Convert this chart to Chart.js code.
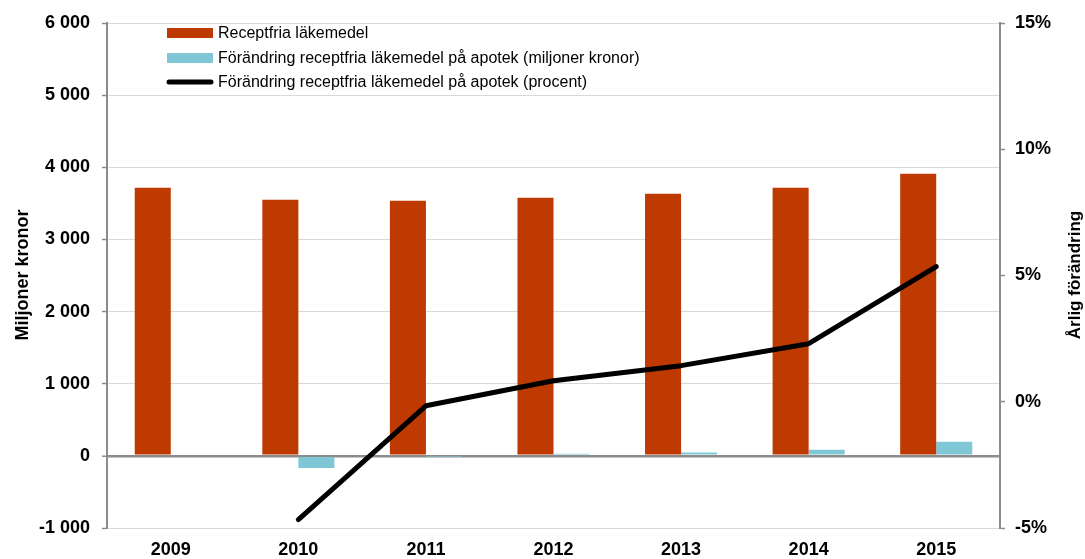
<!DOCTYPE html>
<html>
<head>
<meta charset="utf-8">
<script src="https://cdn.jsdelivr.net/npm/chart.js@4"></script>
<style>
  body { margin: 0; background: #fff; }
  #wrap { width: 1085px; height: 559px; position: relative; }
</style>
</head>
<body>
<div id="wrap"><canvas id="myChart"></canvas></div>
<script>
// data
const years = ["2009", "2010", "2011", "2012", "2013", "2014", "2015"];
const receptfria = [3717, 3550, 3537, 3578, 3634, 3717, 3911];
const forandringMkr = [null, -170, -10, 30, 45, 83, 194];
const forandringProcent = [null, -4.67, -0.16, 0.83, 1.43, 2.3, 5.35];
const legendLabels = [
    "Receptfria läkemedel",
    "Förändring receptfria läkemedel på apotek (miljoner kronor)",
    "Förändring receptfria läkemedel på apotek (procent)"
];
const leftTitle = "Miljoner kronor";
const rightTitle = "Årlig förändring";

const orange = "#BE3A00";
const blue = "#80C7D5";
const axisGrey = "#8c8c8c";
const gridGrey = "#d9d9d9";
const fontFam = "'Liberation Sans', Arial, sans-serif";

function tusen(v) {
    var s = Math.abs(v).toString().replace(/\B(?=(\d{3})+(?!\d))/g, " ");
    return (v < 0 ? "-" : "") + s;
}

// legend + axis titles drawn on top of the chart
const extras = {
    id: "extras",
    afterDraw(chart) {
        const ctx = chart.ctx;
        ctx.save();
        const rows = [33, 58, 82];
        const x0 = 167, x1 = 213;
        ctx.fillStyle = orange;
        ctx.fillRect(x0, rows[0] - 5, x1 - x0, 10);
        ctx.fillStyle = blue;
        ctx.fillRect(x0, rows[1] - 5, x1 - x0, 10);
        ctx.strokeStyle = "#000";
        ctx.lineWidth = 5;
        ctx.lineCap = "round";
        ctx.beginPath();
        ctx.moveTo(x0 + 2, rows[2]);
        ctx.lineTo(x1 - 2, rows[2]);
        ctx.stroke();
        ctx.fillStyle = "#000";
        ctx.font = "16px " + fontFam;
        ctx.textBaseline = "middle";
        ctx.textAlign = "left";
        legendLabels.forEach(function(t, i) {
            ctx.fillText(t, 218, rows[i] + 1);
        });

        ctx.font = "bold 18px " + fontFam;
        ctx.textAlign = "center";
        ctx.translate(23, 275);
        ctx.rotate(-Math.PI / 2);
        ctx.fillText(leftTitle, 0, 0);
        ctx.restore();

        ctx.save();
        ctx.fillStyle = "#000";
        ctx.font = "bold 17px " + fontFam;
        ctx.textAlign = "center";
        ctx.textBaseline = "middle";
        ctx.translate(1075, 275);
        ctx.rotate(-Math.PI / 2);
        ctx.fillText(rightTitle, 0, 0);
        ctx.restore();
    }
};

const myChart = new Chart("myChart", {
    type: "bar",
    data: {
        labels: years,
        datasets: [{
            type: "line",
            label: legendLabels[2],
            data: forandringProcent,
            yAxisID: "y1",
            borderColor: "#000",
            borderWidth: 5,
            pointRadius: 0,
            borderCapStyle: "round",
            borderJoinStyle: "round",
            order: 0
        }, {
            label: legendLabels[0],
            data: receptfria,
            yAxisID: "y",
            backgroundColor: orange,
            order: 1
        }, {
            label: legendLabels[1],
            data: forandringMkr,
            yAxisID: "y",
            backgroundColor: blue,
            order: 1
        }]
    },
    options: {
        responsive: true,
        maintainAspectRatio: false,
        animation: false,
        layout: { padding: { top: 23, left: 0, right: 0, bottom: 0 } },
        datasets: {
            bar: { barPercentage: 1, categoryPercentage: 0.565 }
        },
        plugins: {
            legend: { display: false },
            tooltip: { enabled: false }
        },
        scales: {
            x: {
                grid: { display: false },
                border: { display: false },
                ticks: {
                    color: "#000",
                    font: { family: fontFam, size: 18, weight: "bold" },
                    padding: 3
                },
                afterFit: function(s) { s.height = 31; }
            },
            y: {
                position: "left",
                min: -1000,
                max: 6000,
                ticks: {
                    stepSize: 1000,
                    color: "#000",
                    font: { family: fontFam, size: 18, weight: "bold" },
                    padding: 12,
                    callback: function(v) { return tusen(v); }
                },
                grid: {
                    color: function(c) { return c.tick && c.tick.value === 0 ? axisGrey : gridGrey; },
                    lineWidth: function(c) { return c.tick && c.tick.value === 0 ? 2.5 : 1; },
                    tickColor: axisGrey,
                    tickLength: 5,
                    tickWidth: 1.5
                },
                border: { color: axisGrey, width: 2 },
                afterFit: function(s) { s.width = 107; }
            },
            y1: {
                position: "right",
                min: -5,
                max: 15,
                ticks: {
                    stepSize: 5,
                    color: "#000",
                    font: { family: fontFam, size: 18, weight: "bold" },
                    padding: 10,
                    callback: function(v) { return v + "%"; }
                },
                grid: {
                    drawOnChartArea: false,
                    tickColor: axisGrey,
                    tickLength: 5,
                    tickWidth: 1.5
                },
                border: { color: axisGrey, width: 2 },
                afterFit: function(s) { s.width = 85; }
            }
        }
    },
    plugins: [extras]
});
</script>
</body>
</html>
